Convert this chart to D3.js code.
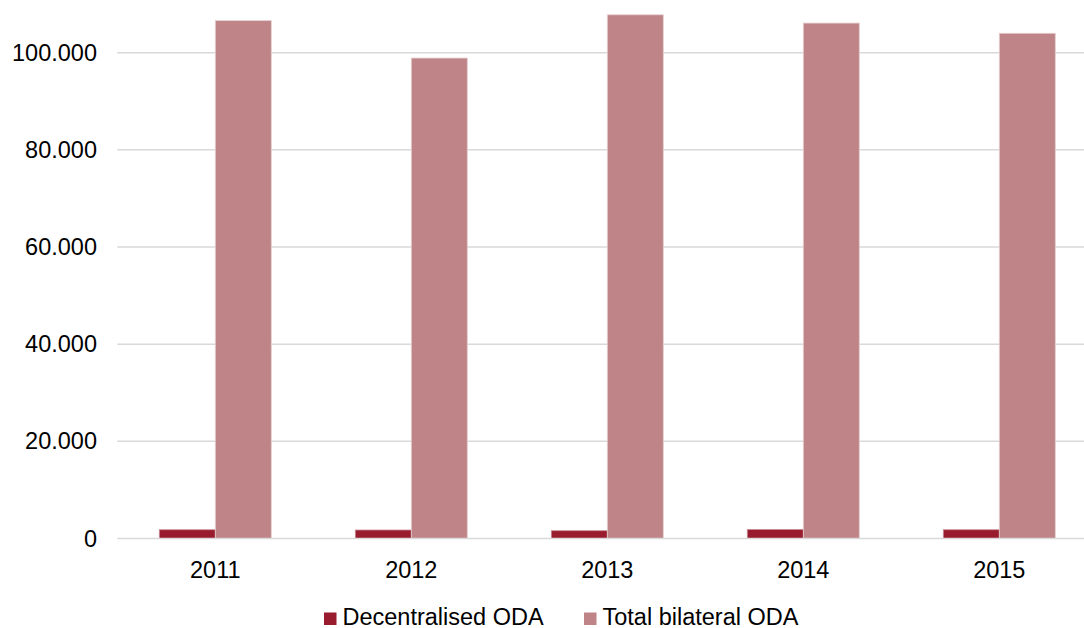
<!DOCTYPE html>
<html>
<head>
<meta charset="utf-8">
<script src="https://cdn.jsdelivr.net/npm/d3@7"></script>
<style>
  html, body { margin: 0; padding: 0; background: #ffffff; }
  svg { display: block; font-family: "Liberation Sans", Arial, sans-serif; }
</style>
</head>
<body>
<svg id="chart" width="1084" height="628"></svg>
<script>
// Years on the category axis
const years = ["2011", "2012", "2013", "2014", "2015"];
// Series values (USD million)
const decentralisedODA = [1800, 1750, 1600, 1850, 1800];
const totalBilateralODA = [106600, 98900, 107800, 106100, 104000];
// Value axis ticks
const yTicks = [0, 20000, 40000, 60000, 80000, 100000];
// Series names and colours
const seriesNames = ["Decentralised ODA", "Total bilateral ODA"];
const seriesColors = ["#981b2e", "#bf8487"];

const svg = d3.select("#chart");
const FONT = 23.5;

const x0 = d3.scaleBand().domain(years).range([117.3, 1097.3]).paddingInner(0).paddingOuter(0);
const x1 = d3.scaleBand().domain(seriesNames).range([0, x0.bandwidth()]).paddingInner(0).paddingOuter(0.75);
const y = d3.scaleLinear().domain([0, 100000]).range([538.5, 52.7]);

const fmt = v => d3.format(",")(v).replace(/,/g, ".");

// Horizontal gridlines
svg.append("g")
  .selectAll("line")
  .data(yTicks.filter(d => d > 0))
  .join("line")
  .attr("x1", x0.range()[0]).attr("x2", x0.range()[1])
  .attr("y1", d => y(d)).attr("y2", d => y(d))
  .attr("stroke", "#d9d9d9").attr("stroke-width", 1.5);

// Value axis labels
const yAxis = d3.axisLeft(y).tickValues(yTicks).tickFormat(fmt).tickSize(0).tickPadding(0);
svg.append("g")
  .attr("transform", "translate(97,0)")
  .call(yAxis)
  .call(g => g.select(".domain").remove())
  .call(g => g.selectAll("text")
    .attr("fill", "#000").attr("font-size", FONT)
    .attr("font-family", "Liberation Sans, Arial, sans-serif"));

// Bars
const seriesData = [decentralisedODA, totalBilateralODA];
const groups = svg.append("g")
  .selectAll("g")
  .data(years)
  .join("g")
  .attr("transform", d => `translate(${x0(d)},0)`);

groups.selectAll("rect")
  .data((d, i) => seriesNames.map((s, k) => ({ s, k, v: seriesData[k][i] })))
  .join("rect")
  .attr("x", d => x1(d.s))
  .attr("width", x1.bandwidth())
  .attr("y", d => y(d.v))
  .attr("height", d => y(0) - y(d.v))
  .attr("fill", d => seriesColors[d.k])
  .attr("stroke", d => d.k === 0 ? "#c98a94" : "#e6cfd0")
  .attr("stroke-width", 0.8);

// Category axis line and labels
const xAxis = d3.axisBottom(x0).tickSize(0).tickPadding(0);
svg.append("g")
  .attr("transform", `translate(0,${y(0)})`)
  .call(xAxis)
  .call(g => g.select(".domain")
    .attr("stroke", "#d9d9d9").attr("stroke-width", 1.5)
    .attr("d", `M${x0.range()[0]},0H${x0.range()[1]}`))
  .call(g => g.selectAll("text")
    .attr("fill", "#000").attr("font-size", FONT)
    .attr("font-family", "Liberation Sans, Arial, sans-serif")
    .attr("dy", null).attr("y", 39));

// Legend
const legendX = [324, 584];
const legend = svg.append("g");
seriesNames.forEach((name, k) => {
  legend.append("rect")
    .attr("x", legendX[k]).attr("y", 612.5)
    .attr("width", 12.5).attr("height", 12.5)
    .attr("fill", seriesColors[k]);
  legend.append("text")
    .attr("x", legendX[k] + 18.5).attr("y", 619)
    .attr("dominant-baseline", "middle")
    .attr("font-size", FONT).attr("fill", "#000")
    .text(name);
});
</script>
</body>
</html>
